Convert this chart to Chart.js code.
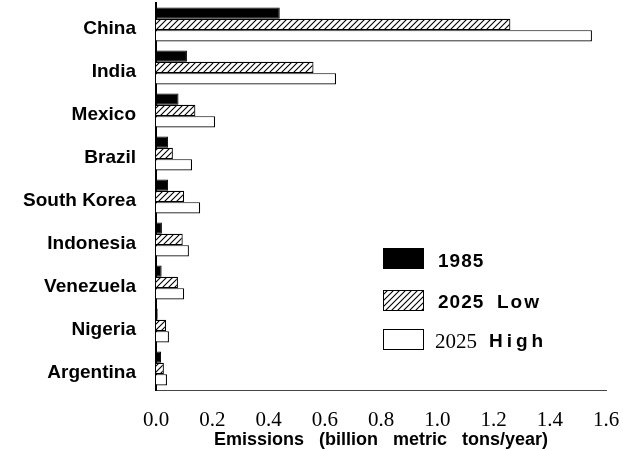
<!DOCTYPE html>
<html>
<head>
<meta charset="utf-8">
<script src="https://cdn.jsdelivr.net/npm/chart.js@4"></script>
<style>
  html, body { margin: 0; padding: 0; background: #fff; }
  #wrap { width: 623px; height: 451px; }
</style>
</head>
<body>
<div id="wrap"><canvas id="chart" width="623" height="451"></canvas></div>
<script>
const countries = ['China', 'India', 'Mexico', 'Brazil', 'South Korea', 'Indonesia', 'Venezuela', 'Nigeria', 'Argentina'];
const em1985 = [0.44, 0.11, 0.08, 0.043, 0.043, 0.021, 0.02, 0.006, 0.018];
const em2025Low = [1.26, 0.56, 0.14, 0.06, 0.10, 0.095, 0.078, 0.036, 0.028];
const em2025High = [1.55, 0.64, 0.21, 0.128, 0.157, 0.117, 0.10, 0.046, 0.039];
const xMin = 0, xMax = 1.6, xStep = 0.2;
const seriesNames = ['1985', '2025 Low', '2025 High'];

const SANS = "'Liberation Sans', Arial, sans-serif";
const SERIF = "'Liberation Serif', 'Times New Roman', serif";

function makeHatch() {
    const c = document.createElement('canvas');
    c.width = 6; c.height = 6;
    const g = c.getContext('2d');
    g.fillStyle = '#fff';
    g.fillRect(0, 0, 6, 6);
    g.strokeStyle = '#000';
    g.lineWidth = 1.1;
    g.beginPath();
    g.moveTo(0, 6); g.lineTo(6, 0);
    g.moveTo(-3, 3); g.lineTo(3, -3);
    g.moveTo(3, 9); g.lineTo(9, 3);
    g.stroke();
    return g.createPattern(c, 'repeat');
}
const hatch = makeHatch();

// legend sits inside the plot, lower right
const insideLegend = {
    id: 'insideLegend',
    afterDraw(chart) {
        const ctx = chart.ctx;
        const fills = ['#000', hatch, '#fff'];
        const rows = [258, 300, 339];
        ctx.save();
        rows.forEach((y, i) => {
            ctx.fillStyle = fills[i];
            ctx.fillRect(383, y - 10, 40, 20);
            ctx.strokeStyle = '#000';
            ctx.lineWidth = 1;
            ctx.strokeRect(383.5, y - 10 + 0.5, 40, 20);
        });
        ctx.fillStyle = '#000';
        ctx.textBaseline = 'middle';
        ctx.textAlign = 'left';
        ctx.font = 'bold 19px ' + SANS;
        ctx.letterSpacing = '1px';
        ctx.fillText(seriesNames[0], 438, rows[0] + 4);
        const [yr, lo] = seriesNames[1].split(' ');
        ctx.fillText(yr, 438, rows[1] + 3);
        ctx.letterSpacing = '2px';
        ctx.fillText(lo, 497, rows[1] + 3);
        const [yr2, hi] = seriesNames[2].split(' ');
        ctx.letterSpacing = '0px';
        ctx.font = '21px ' + SERIF;
        ctx.fillText(yr2, 435, rows[2] + 3);
        ctx.font = 'bold 19px ' + SANS;
        ctx.letterSpacing = '4px';
        ctx.fillText(hi, 489, rows[2] + 3);
        ctx.restore();
    }
};

new Chart(document.getElementById('chart').getContext('2d'), {
    type: 'bar',
    data: {
        labels: countries,
        datasets: [
            { label: seriesNames[0], data: em1985, backgroundColor: '#000', borderColor: '#000', borderWidth: 1 },
            { label: seriesNames[1], data: em2025Low, backgroundColor: hatch, borderColor: '#000', borderWidth: 1.2 },
            { label: seriesNames[2], data: em2025High, backgroundColor: '#fff', borderColor: '#000', borderWidth: 1.2 }
        ]
    },
    options: {
        indexAxis: 'y',
        responsive: false,
        animation: false,
        layout: { padding: { top: 3, right: 17, bottom: 0, left: 0 } },
        datasets: { bar: { categoryPercentage: 0.79, barPercentage: 1.0 } },
        plugins: { legend: { display: false }, tooltip: { enabled: false } },
        scales: {
            x: {
                min: xMin, max: xMax,
                grid: { display: false, drawTicks: false },
                border: { display: true, color: '#444', width: 1, dash: [14, 20] },
                afterFit: s => { s.height = 61; s.paddingLeft = 0; s.paddingRight = 0; },
                ticks: {
                    stepSize: xStep,
                    padding: 18,
                    color: '#000',
                    font: { family: SERIF, size: 21 },
                    callback: v => Number(v).toFixed(1)
                },
                title: {
                    display: true,
                    text: 'Emissions   (billion   metric   tons/year)',
                    color: '#000',
                    font: { family: SANS, size: 18, weight: 'bold' },
                    padding: { top: 0, bottom: 0 }
                }
            },
            y: {
                grid: { display: false, drawTicks: false },
                border: { display: true, color: '#000', width: 2 },
                afterFit: s => { s.width = 156; s.paddingTop = 0; s.paddingBottom = 0; },
                ticks: {
                    padding: 20,
                    labelOffset: 4,
                    color: '#000',
                    font: { family: SANS, size: 19, weight: 'bold' }
                }
            }
        }
    },
    plugins: [insideLegend]
});
</script>
</body>
</html>
